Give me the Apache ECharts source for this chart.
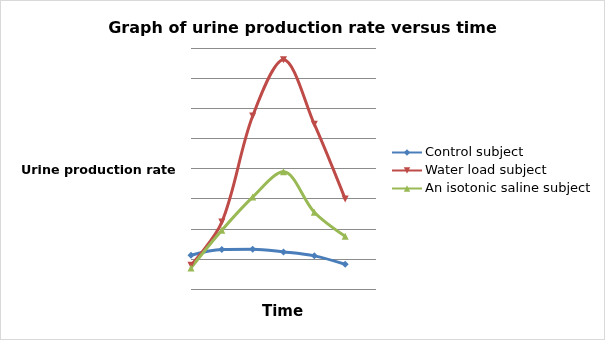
<!DOCTYPE html>
<html>
<head>
<meta charset="utf-8">
<script src="https://cdn.jsdelivr.net/npm/echarts@6/dist/echarts.min.js"></script>
<style>
html,body{margin:0;padding:0;background:#fff;}
#c{width:603px;height:338px;border:1px solid #d9d9d9;}
</style>
</head>
<body>
<div id="c"></div>
<script>
var timePoints = [0, 1, 2, 3, 4, 5];
var controlValues = [1.12, 1.31, 1.32, 1.23, 1.10, 0.82];
var waterLoadValues = [0.79, 2.22, 5.74, 7.61, 5.47, 2.99];
var salineValues = [0.70, 1.95, 3.05, 3.89, 2.55, 1.75];
var seriesNames = ['Control subject', 'Water load subject', 'An isotonic saline subject'];

function pairs(vals){ return timePoints.map(function(t,i){ return [t, vals[i]]; }); }

var font = 'DejaVu Sans';
var chart = echarts.init(document.getElementById('c'), null, {renderer:'canvas'});
chart.setOption({
  animation: false,
  textStyle: {fontFamily: font},
  title: [
    {text: 'Graph of urine production rate versus time', left: 'center', top: 15,
     textStyle: {fontFamily: font, fontSize: 16, fontWeight: 'bold', color: '#000'}},
    {text: 'Urine production rate', left: 15, top: 158,
     textStyle: {fontFamily: font, fontSize: 12.7, fontWeight: 'bold', color: '#000'}},
    {text: 'Time', left: 256, top: 299,
     textStyle: {fontFamily: font, fontSize: 15, fontWeight: 'bold', color: '#000'}}
  ],
  legend: {
    orient: 'vertical', left: 385, top: 140, itemGap: 5, itemWidth: 30, itemHeight: 8,
    data: seriesNames,
    textStyle: {fontFamily: font, fontSize: 13, color: '#000', padding: [0,0,0,-2]}
  },
  grid: {left: 190, right: 228, top: 47, bottom: 50},
  xAxis: {type: 'value', min: 0, max: 6, show: false},
  yAxis: {type: 'value', min: 0, max: 8, interval: 1,
    axisLine: {show: false}, axisTick: {show: false}, axisLabel: {show: false},
    splitLine: {lineStyle: {color: '#8c8c8c', width: 1}}},
  series: [
    {name: seriesNames[0], type: 'line', data: pairs(controlValues), smooth: 0.33,
     symbol: 'diamond', symbolSize: 7, color: '#4A7EBB', lineStyle: {width: 3}},
    {name: seriesNames[1], type: 'line', data: pairs(waterLoadValues), smooth: 0.33,
     symbol: 'triangle', symbolRotate: 180, symbolSize: 7, color: '#BE4B48', lineStyle: {width: 3}},
    {name: seriesNames[2], type: 'line', data: pairs(salineValues), smooth: 0.33,
     symbol: 'triangle', symbolSize: 7, color: '#98B954', lineStyle: {width: 3}}
  ]
});
</script>
</body>
</html>
